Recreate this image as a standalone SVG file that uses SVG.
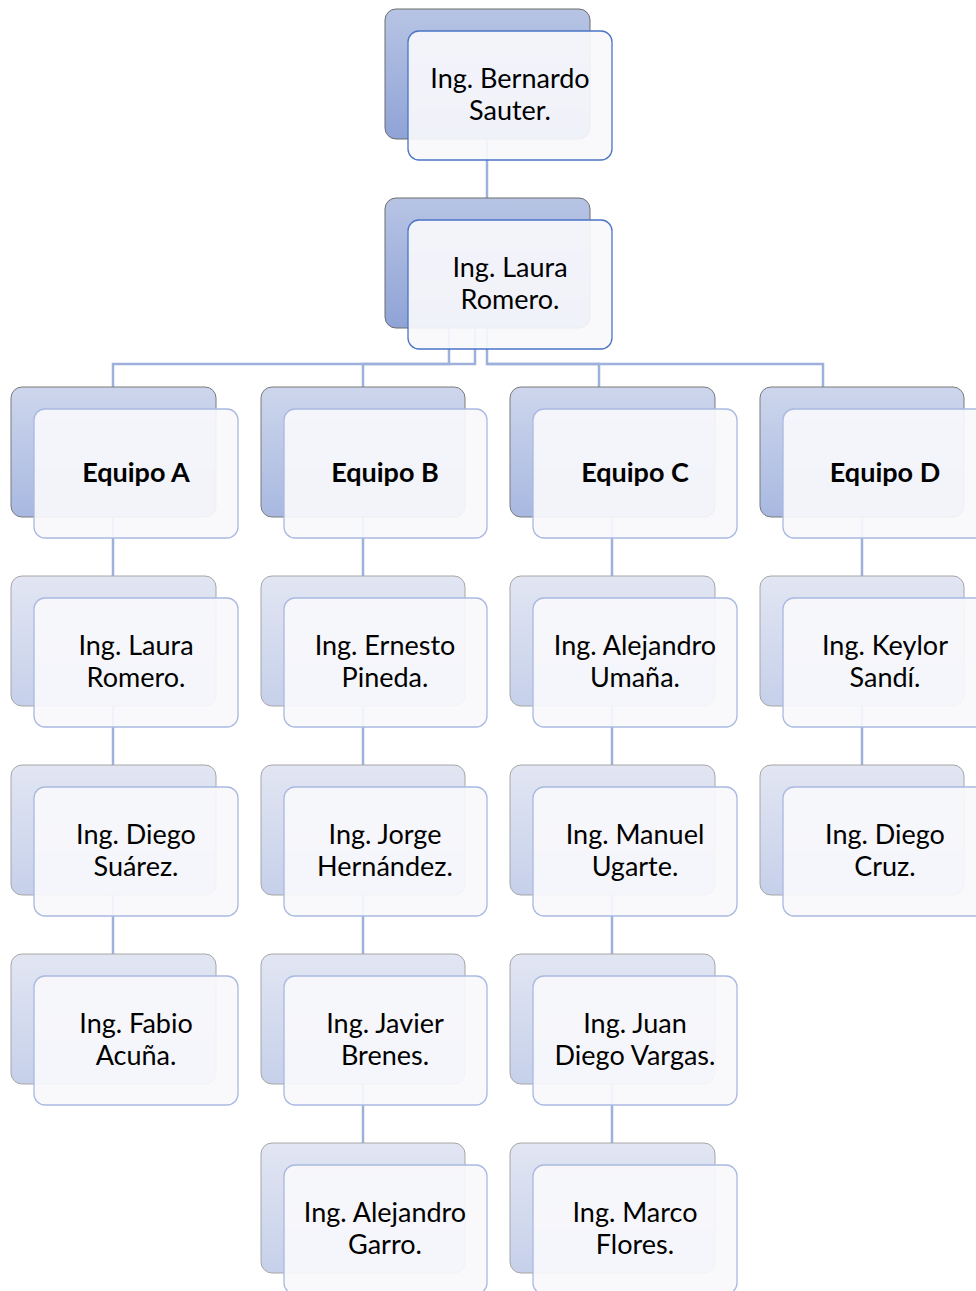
<svg xmlns="http://www.w3.org/2000/svg" width="976" height="1291" viewBox="0 0 976 1291">
<defs>
<linearGradient id="g1" x1="0" y1="0" x2="0" y2="1"><stop offset="0" stop-color="#b7c4e4"/><stop offset="1" stop-color="#8fa3d6"/></linearGradient>
<linearGradient id="g2" x1="0" y1="0" x2="0" y2="1"><stop offset="0" stop-color="#cdd6ec"/><stop offset="1" stop-color="#a8b8e0"/></linearGradient>
<linearGradient id="g3" x1="0" y1="0" x2="0" y2="1"><stop offset="0" stop-color="#e2e6f3"/><stop offset="1" stop-color="#c6d0ea"/></linearGradient>
<style>
.conn{fill:none;stroke:#9eb0dc;stroke-width:2.5}
.b1{fill:url(#g1);stroke:#6d6d6d;stroke-width:1}
.b2{fill:url(#g2);stroke:#7a7a7a;stroke-width:1}
.b3{fill:url(#g3);stroke:#a6a6a6;stroke-width:1}
.f1{fill:#f8f9fc;fill-opacity:0.92;stroke:#4a74c6;stroke-width:1.3}
.f2{fill:#f8f9fc;fill-opacity:0.92;stroke:#a9b9e1;stroke-width:1.3}
text{font-family:Lato,"Open Sans","Liberation Sans",sans-serif;font-size:27px;fill:#000;text-anchor:middle}
.bold{font-weight:bold}
</style>
</defs>
<g id="connectors">
<path class="conn" d="M487 139V198"/>
<path class="conn" d="M449 328V364H113V387"/>
<path class="conn" d="M475 328V364H363V387"/>
<path class="conn" d="M487 328V364H599V387"/>
<path class="conn" d="M487 364H823V387"/>
<path class="conn" d="M113 517V576M113 706V765M113 895V954"/>
<path class="conn" d="M363 517V576M363 706V765M363 895V954M363 1084V1143"/>
<path class="conn" d="M612 517V576M612 706V765M612 895V954M612 1084V1143"/>
<path class="conn" d="M862 517V576M862 706V765"/>
</g>
<g id="n0"><rect class="b1" x="385" y="9" width="205" height="130" rx="11"/><rect class="f1" x="408" y="31" width="204" height="129" rx="11"/><text x="510" y="88">Ing. Bernardo</text><text x="510" y="120">Sauter.</text></g>
<g id="n1"><rect class="b1" x="385" y="198" width="205" height="130" rx="11"/><rect class="f1" x="408" y="220" width="204" height="129" rx="11"/><text x="510" y="277">Ing. Laura</text><text x="510" y="309">Romero.</text></g>
<g id="eqA"><rect class="b2" x="11" y="387" width="205" height="130" rx="11"/><rect class="f2" x="34" y="409" width="204" height="129" rx="11"/><text class="bold" x="136" y="482">Equipo A</text></g>
<g id="eqB"><rect class="b2" x="261" y="387" width="204" height="130" rx="11"/><rect class="f2" x="284" y="409" width="203" height="129" rx="11"/><text class="bold" x="385" y="482">Equipo B</text></g>
<g id="eqC"><rect class="b2" x="510" y="387" width="205" height="130" rx="11"/><rect class="f2" x="533" y="409" width="204" height="129" rx="11"/><text class="bold" x="635" y="482">Equipo C</text></g>
<g id="eqD"><rect class="b2" x="760" y="387" width="204" height="130" rx="11"/><rect class="f2" x="783" y="409" width="204" height="129" rx="11"/><text class="bold" x="885" y="482">Equipo D</text></g>
<g id="a1"><rect class="b3" x="11" y="576" width="205" height="130" rx="11"/><rect class="f2" x="34" y="598" width="204" height="129" rx="11"/><text x="136" y="655">Ing. Laura</text><text x="136" y="687">Romero.</text></g>
<g id="a2"><rect class="b3" x="11" y="765" width="205" height="130" rx="11"/><rect class="f2" x="34" y="787" width="204" height="129" rx="11"/><text x="136" y="844">Ing. Diego</text><text x="136" y="876">Suárez.</text></g>
<g id="a3"><rect class="b3" x="11" y="954" width="205" height="130" rx="11"/><rect class="f2" x="34" y="976" width="204" height="129" rx="11"/><text x="136" y="1033">Ing. Fabio</text><text x="136" y="1065">Acuña.</text></g>
<g id="b1"><rect class="b3" x="261" y="576" width="204" height="130" rx="11"/><rect class="f2" x="284" y="598" width="203" height="129" rx="11"/><text x="385" y="655">Ing. Ernesto</text><text x="385" y="687">Pineda.</text></g>
<g id="b2"><rect class="b3" x="261" y="765" width="204" height="130" rx="11"/><rect class="f2" x="284" y="787" width="203" height="129" rx="11"/><text x="385" y="844">Ing. Jorge</text><text x="385" y="876">Hernández.</text></g>
<g id="b3"><rect class="b3" x="261" y="954" width="204" height="130" rx="11"/><rect class="f2" x="284" y="976" width="203" height="129" rx="11"/><text x="385" y="1033">Ing. Javier</text><text x="385" y="1065">Brenes.</text></g>
<g id="b4"><rect class="b3" x="261" y="1143" width="204" height="130" rx="11"/><rect class="f2" x="284" y="1165" width="203" height="129" rx="11"/><text x="385" y="1222">Ing. Alejandro</text><text x="385" y="1254">Garro.</text></g>
<g id="c1"><rect class="b3" x="510" y="576" width="205" height="130" rx="11"/><rect class="f2" x="533" y="598" width="204" height="129" rx="11"/><text x="635" y="655">Ing. Alejandro</text><text x="635" y="687">Umaña.</text></g>
<g id="c2"><rect class="b3" x="510" y="765" width="205" height="130" rx="11"/><rect class="f2" x="533" y="787" width="204" height="129" rx="11"/><text x="635" y="844">Ing. Manuel</text><text x="635" y="876">Ugarte.</text></g>
<g id="c3"><rect class="b3" x="510" y="954" width="205" height="130" rx="11"/><rect class="f2" x="533" y="976" width="204" height="129" rx="11"/><text x="635" y="1033">Ing. Juan</text><text x="635" y="1065">Diego Vargas.</text></g>
<g id="c4"><rect class="b3" x="510" y="1143" width="205" height="130" rx="11"/><rect class="f2" x="533" y="1165" width="204" height="129" rx="11"/><text x="635" y="1222">Ing. Marco</text><text x="635" y="1254">Flores.</text></g>
<g id="d1"><rect class="b3" x="760" y="576" width="204" height="130" rx="11"/><rect class="f2" x="783" y="598" width="204" height="129" rx="11"/><text x="885" y="655">Ing. Keylor</text><text x="885" y="687">Sandí.</text></g>
<g id="d2"><rect class="b3" x="760" y="765" width="204" height="130" rx="11"/><rect class="f2" x="783" y="787" width="204" height="129" rx="11"/><text x="885" y="844">Ing. Diego</text><text x="885" y="876">Cruz.</text></g>
</svg>
